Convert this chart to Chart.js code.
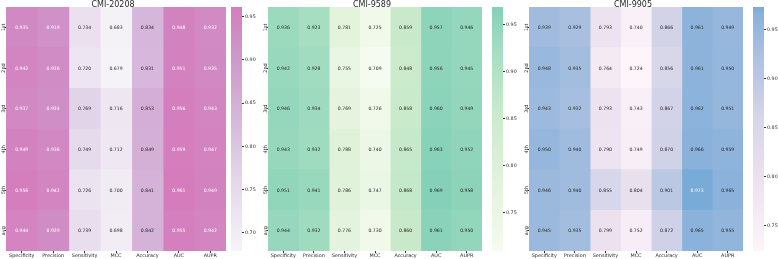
<!DOCTYPE html>
<html>
<head>
<meta charset="utf-8">
<script src="https://cdn.jsdelivr.net/npm/chart.js@4.4.1/dist/chart.umd.min.js"></script>
<style>
  body { margin: 0; background: #fff; }
  #wrap { position: relative; width: 778px; height: 259px; overflow: hidden; }
  canvas { position: absolute; top: 0; }
</style>
</head>
<body>
<div id="wrap">
  <canvas id="hm1" width="226" height="259" style="left:0px"></canvas>
  <canvas id="cb1" width="32" height="259" style="left:231px"></canvas>
  <canvas id="hm2" width="220" height="259" style="left:262px"></canvas>
  <canvas id="cb2" width="32" height="259" style="left:492px"></canvas>
  <canvas id="hm3" width="220" height="259" style="left:523px"></canvas>
  <canvas id="cb3" width="25" height="259" style="left:753px"></canvas>
</div>
<script>
const rows = ["1st", "2nd", "3rd", "4th", "5th", "avg"];
const metrics = ["Specificity", "Precision", "Sensitivity", "MCC", "Accuracy", "AUC", "AUPR"];

// CMI-20208
const cmi20208 = [
  [0.935, 0.919, 0.734, 0.683, 0.834, 0.948, 0.932],
  [0.942, 0.926, 0.720, 0.679, 0.831, 0.951, 0.935],
  [0.937, 0.924, 0.769, 0.716, 0.853, 0.956, 0.943],
  [0.949, 0.936, 0.749, 0.712, 0.849, 0.959, 0.947],
  [0.956, 0.942, 0.726, 0.700, 0.841, 0.961, 0.949],
  [0.944, 0.929, 0.739, 0.698, 0.842, 0.955, 0.942],
];
// CMI-9589
const cmi9589 = [
  [0.936, 0.923, 0.781, 0.725, 0.859, 0.957, 0.946],
  [0.942, 0.928, 0.755, 0.709, 0.848, 0.956, 0.945],
  [0.946, 0.934, 0.769, 0.726, 0.858, 0.960, 0.949],
  [0.943, 0.932, 0.788, 0.740, 0.865, 0.963, 0.952],
  [0.951, 0.941, 0.786, 0.747, 0.868, 0.969, 0.958],
  [0.944, 0.932, 0.776, 0.730, 0.860, 0.961, 0.950],
];
// CMI-9905
const cmi9905 = [
  [0.939, 0.929, 0.793, 0.740, 0.866, 0.961, 0.949],
  [0.948, 0.935, 0.764, 0.724, 0.856, 0.961, 0.950],
  [0.943, 0.932, 0.793, 0.743, 0.867, 0.962, 0.951],
  [0.950, 0.940, 0.790, 0.749, 0.870, 0.966, 0.959],
  [0.946, 0.940, 0.855, 0.804, 0.901, 0.973, 0.965],
  [0.945, 0.935, 0.799, 0.752, 0.872, 0.965, 0.955],
];

const cbTicks20208 = [0.70, 0.75, 0.80, 0.85, 0.90, 0.95];
const cbTicks9589 = [0.75, 0.80, 0.85, 0.90, 0.95];
const cbTicks9905 = [0.75, 0.80, 0.85, 0.90, 0.95];

Chart.defaults.font.family = "'DejaVu Sans', sans-serif";
Chart.defaults.color = "#262626";

// colormaps (position 0..1 -> colour)
const pinkMap = [[0, "#f6f3f8"], [0.3, "#e3d6e9"], [0.55, "#d6b6da"], [0.8, "#cd98ca"], [1, "#d57cbd"]];
const greenMap = [[0, "#f5fbf0"], [0.3, "#e1f2da"], [0.58, "#c8eacb"], [0.82, "#a6dec1"], [1, "#84d0b8"]];
const blueMap = [[0, "#fdf5fa"], [0.28, "#ede2ef"], [0.55, "#d6d5e9"], [0.82, "#a9bfe0"], [0.975, "#88b1da"], [1, "#78abd8"]];

function hexRgb(h) {
  return [1, 3, 5].map(i => parseInt(h.slice(i, i + 2), 16));
}
function mapColor(stops, t) {
  t = Math.max(0, Math.min(1, t));
  for (let k = 1; k < stops.length; k++) {
    if (t <= stops[k][0]) {
      const [t0, c0] = stops[k - 1], [t1, c1] = stops[k];
      const f = (t - t0) / (t1 - t0);
      const a = hexRgb(c0), b = hexRgb(c1);
      return a.map((v, i) => Math.round(v + (b[i] - v) * f));
    }
  }
  return hexRgb(stops[stops.length - 1][1]);
}
function lum(rgb) {
  const l = rgb.map(v => {
    v /= 255;
    return v <= 0.03928 ? v / 12.92 : Math.pow((v + 0.055) / 1.055, 2.4);
  });
  return 0.2126 * l[0] + 0.7152 * l[1] + 0.0722 * l[2];
}

const cellText = {
  id: "cellText",
  afterDatasetsDraw(chart, args, opts) {
    const ctx = chart.ctx;
    ctx.save();
    ctx.font = "4.6px 'DejaVu Sans'";
    ctx.textAlign = "center";
    ctx.textBaseline = "middle";
    chart.data.datasets.forEach((ds, j) => {
      chart.getDatasetMeta(j).data.forEach((el, i) => {
        const p = el.getCenterPoint();
        const v = opts.values[i][j];
        ctx.fillStyle = lum(mapColor(opts.cmap, (v - opts.vmin) / (opts.vmax - opts.vmin))) > 0.4 ? "#262626" : "#ffffff";
        ctx.fillText(v.toFixed(3), p.x, p.y + 0.3);
      });
    });
    ctx.restore();
  }
};

function heatmap(id, title, values, cmap) {
  const flat = values.flat();
  const vmin = Math.min(...flat), vmax = Math.max(...flat);
  new Chart(document.getElementById(id), {
    type: "bar",
    plugins: [cellText],
    data: {
      labels: rows,
      datasets: metrics.map((m, j) => ({
        label: m,
        data: rows.map(() => [j, j + 1]),
        backgroundColor: values.map(r => "rgb(" + mapColor(cmap, (r[j] - vmin) / (vmax - vmin)).join(",") + ")"),
        borderWidth: 0,
        barPercentage: 1,
        categoryPercentage: 1,
        grouped: false,
      })),
    },
    options: {
      indexAxis: "y",
      responsive: false,
      animation: false,
      layout: { padding: 0 },
      plugins: {
        legend: { display: false },
        tooltip: { enabled: false },
        title: {
          display: true,
          text: title,
          color: "#262626",
          font: { size: 8, weight: "normal", lineHeight: 0.625 },
          padding: { top: 2, bottom: 0 },
        },
        cellText: { values: values, cmap: cmap, vmin: vmin, vmax: vmax },
      },
      scales: {
        x: {
          type: "linear",
          min: 0,
          max: 7,
          afterBuildTicks: s => { s.ticks = metrics.map((m, i) => ({ value: i + 0.5 })); },
          afterFit: s => { s.height = 8; },
          grid: { drawOnChartArea: false, tickLength: 2, color: "#333" },
          border: { display: false },
          ticks: {
            autoSkip: false,
            maxRotation: 0,
            padding: 0,
            font: { size: 4.9 },
            color: "#262626",
            callback: (v, i) => metrics[i],
          },
        },
        y: {
          afterFit: s => { s.width = 6; },
          grid: { drawOnChartArea: false, tickLength: 1.5, color: "#333", offset: false },
          border: { display: false },
          ticks: {
            minRotation: 90,
            maxRotation: 90,
            crossAlign: "center",
            padding: -3.5,
            font: { size: 4.9 },
            color: "#262626",
          },
        },
      },
    },
  });
}

function colorbar(id, values, cmap, ticks, width) {
  const flat = values.flat();
  const vmin = Math.min(...flat), vmax = Math.max(...flat);
  new Chart(document.getElementById(id), {
    type: "bar",
    data: {
      labels: [""],
      datasets: [{
        data: [[vmin, vmax]],
        borderWidth: 0,
        barPercentage: 1,
        categoryPercentage: 1,
        backgroundColor: c => {
          const a = c.chart.chartArea;
          if (!a) return null;
          const g = c.chart.ctx.createLinearGradient(0, a.bottom, 0, a.top);
          cmap.forEach(([o, col]) => g.addColorStop(o, col));
          return g;
        },
      }],
    },
    options: {
      responsive: false,
      animation: false,
      layout: { padding: { top: 7, bottom: 8, left: 0, right: 0 } },
      plugins: { legend: { display: false }, tooltip: { enabled: false } },
      scales: {
        x: { display: false },
        y: {
          position: "right",
          min: vmin,
          max: vmax,
          afterBuildTicks: s => { s.ticks = ticks.map(v => ({ value: v })); },
          afterFit: s => { s.width = width; },
          grid: { drawOnChartArea: false, tickLength: 2, color: "#333" },
          border: { display: false },
          ticks: {
            padding: 1,
            font: { size: 4.8 },
            color: "#262626",
            callback: v => v.toFixed(2),
          },
        },
      },
    },
  });
}

heatmap("hm1", "CMI-20208", cmi20208, pinkMap);
colorbar("cb1", cmi20208, pinkMap, cbTicks20208, 21);
heatmap("hm2", "CMI-9589", cmi9589, greenMap);
colorbar("cb2", cmi9589, greenMap, cbTicks9589, 21);
heatmap("hm3", "CMI-9905", cmi9905, blueMap);
colorbar("cb3", cmi9905, blueMap, cbTicks9905, 14);
</script>
</body>
</html>
